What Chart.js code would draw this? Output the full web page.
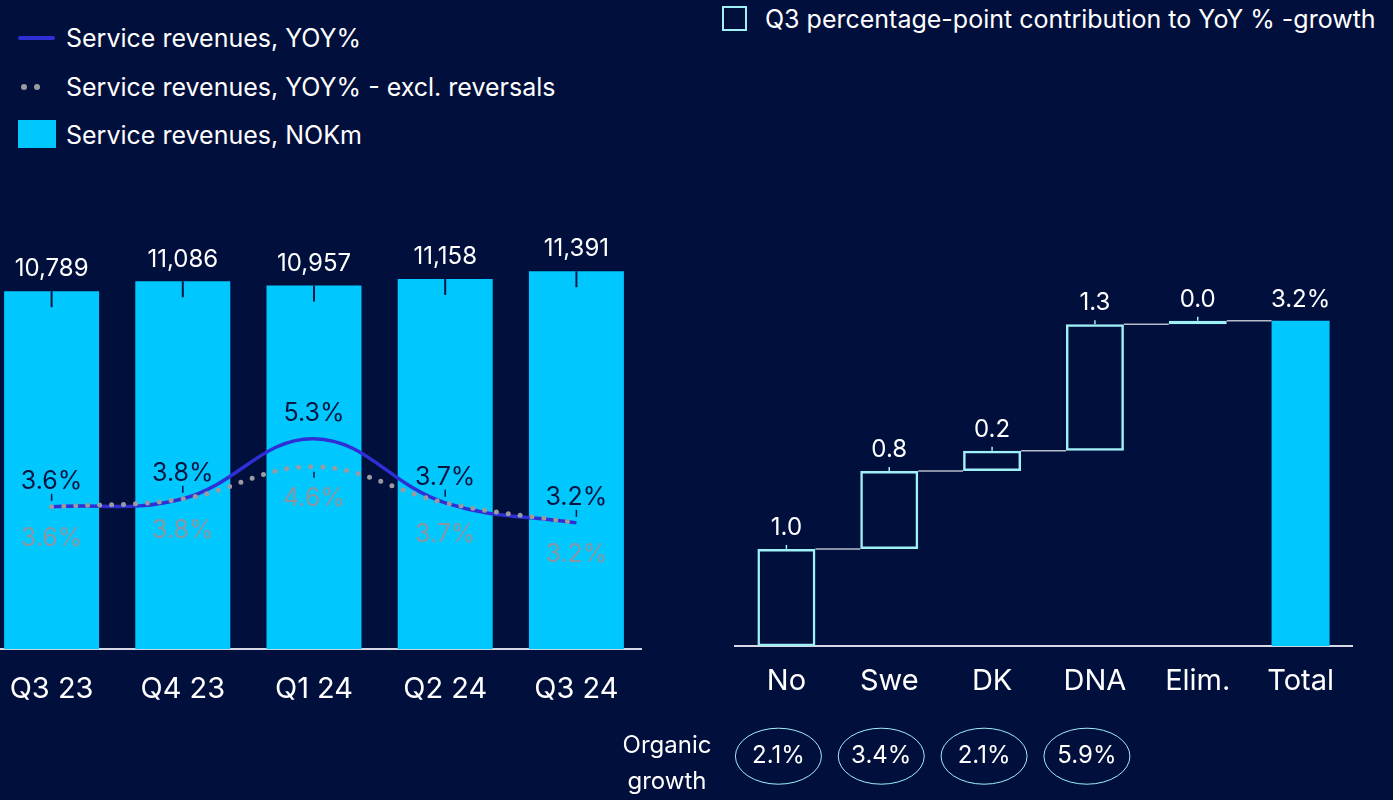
<!DOCTYPE html>
<html lang="en">
<head>
<meta charset="UTF-8" />
<title>Service revenues</title>
<script src="https://cdn.jsdelivr.net/npm/chart.js"></script>
<style>
  html, body { margin: 0; padding: 0; }
  body {
    width: 1393px; height: 800px; overflow: hidden; position: relative;
    background: #010f3c; color: #fff; font-family: 'Inter', sans-serif;
  }
  .lg { position: absolute; font-size: 25px; line-height: 30px; white-space: nowrap; }
  .mk { position: absolute; }
  #leftBox { position: absolute; left: -14px; top: 180px; }
  #rightBox { position: absolute; left: 600px; top: 150px; }
</style>
</head>
<body>
<!-- legends -->
<div class="mk" style="left:18px;top:36px;width:37px;height:4px;background:#2f2fd6;border-radius:2px"></div>
<div class="lg" style="left:66px;top:23px">Service revenues, YOY%</div>
<div class="mk" style="left:21px;top:84px;width:6px;height:6px;background:#9a9aa0;border-radius:3px"></div>
<div class="mk" style="left:34px;top:84px;width:6px;height:6px;background:#9a9aa0;border-radius:3px"></div>
<div class="lg" style="left:66px;top:72px">Service revenues, YOY% - excl. reversals</div>
<div class="mk" style="left:18px;top:120px;width:38px;height:28px;background:#00c8ff"></div>
<div class="lg" style="left:66px;top:120px">Service revenues, NOKm</div>

<div class="mk" style="left:722px;top:6px;width:21px;height:21px;border:2px solid #a0f0f8"></div>
<div class="lg" style="left:765px;top:4px">Q3 percentage-point contribution to YoY % -growth</div>

<div id="leftBox"><canvas id="revChart" width="656" height="550"></canvas></div>
<div id="rightBox"><canvas id="wfChart" width="793" height="650"></canvas></div>

<script>
const quarters = ['Q3 23', 'Q4 23', 'Q1 24', 'Q2 24', 'Q3 24'];
const revenues = [10789, 11086, 10957, 11158, 11391];
const yoyGrowth = [3.6, 3.8, 5.3, 3.7, 3.2];
const yoyExclReversals = [3.6, 3.8, 4.6, 3.7, 3.2];

const wfCategories = ['No', 'Swe', 'DK', 'DNA', 'Elim.', 'Total'];
const wfContrib = [1.0, 0.8, 0.21, 1.30, 0.035];
const wfTotal = 3.345;
const wfLabels = ['1.0', '0.8', '0.2', '1.3', '0.0', '3.2%'];
const organicGrowth = ['2.1%', '3.4%', '2.1%', '5.9%'];

const BG = '#010f3c', CYAN = '#00c8ff', AQUA = '#a0f0f8', NAVY = '#0a1642';
const FONT = 'Inter';

// ---------- left chart: revenues + growth lines ----------
const leftLabels = {
  id: 'leftLabels',
  afterDatasetsDraw(chart) {
    const ctx = chart.ctx;
    const bars = chart.getDatasetMeta(0).data;
    const yoy = chart.getDatasetMeta(1).data;
    const excl = chart.getDatasetMeta(2).data;
    ctx.save();
    ctx.textAlign = 'center';
    ctx.textBaseline = 'middle';
    ctx.lineWidth = 2;
    ctx.strokeStyle = NAVY;
    bars.forEach((b, i) => {
      ctx.beginPath(); ctx.moveTo(b.x, b.y); ctx.lineTo(b.x, b.y + 16); ctx.stroke();
      ctx.font = '24px ' + FONT;
      ctx.fillStyle = '#ffffff';
      ctx.fillText(revenues[i].toLocaleString('en-US'), b.x, b.y - 22);
    });
    ctx.font = '25px ' + FONT;
    yoy.forEach((p, i) => {
      ctx.strokeStyle = NAVY; ctx.lineWidth = 1.5;
      ctx.beginPath();
      if (i === 2) { ctx.moveTo(p.x, excl[i].y + 5); ctx.lineTo(p.x, excl[i].y + 11); }
      else { ctx.moveTo(p.x, p.y - 13); ctx.lineTo(p.x, p.y - 6); }
      ctx.stroke();
      ctx.fillStyle = NAVY;
      ctx.fillText(yoyGrowth[i].toFixed(1) + '%', p.x, p.y - 25);
      ctx.fillStyle = '#8a97a3';
      ctx.fillText(yoyExclReversals[i].toFixed(1) + '%', p.x, excl[i].y + 32);
    });
    ctx.restore();
  }
};

new Chart(document.getElementById('revChart'), {
  type: 'bar',
  data: {
    labels: quarters,
    datasets: [
      { label: 'Service revenues, NOKm', data: revenues, yAxisID: 'y', backgroundColor: CYAN,
        barPercentage: 0.724, categoryPercentage: 1, order: 2 },
      { type: 'line', label: 'Service revenues, YOY%', data: yoyGrowth, yAxisID: 'y1',
        borderColor: '#2f2fd6', borderWidth: 3.5, tension: 0.4, pointRadius: 0, order: 1 },
      { type: 'line', label: 'Service revenues, YOY% - excl. reversals', data: yoyExclReversals, yAxisID: 'y1',
        borderColor: '#9a9aa0', borderWidth: 5, borderDash: [0, 12], borderCapStyle: 'round',
        tension: 0.4, pointRadius: 0, order: 0 }
    ]
  },
  options: {
    responsive: false,
    animation: false,
    layout: { padding: 0 },
    plugins: { legend: { display: false }, tooltip: { enabled: false } },
    scales: {
      x: {
        grid: { display: false, drawTicks: false },
        border: { display: true, color: '#d6d9e4', width: 2 },
        ticks: { color: '#ffffff', font: { family: FONT, size: 29 }, padding: 23 }
      },
      y: { display: false, min: 0, max: 14140 },
      y1: { display: false, min: 0.05, max: 11.75 }
    }
  },
  plugins: [leftLabels]
});

// ---------- right chart: waterfall ----------
const wfRanges = [];
let run = 0;
wfContrib.forEach(v => { wfRanges.push([run, run + v]); run += v; });
wfRanges.push([0, wfTotal]);
const last = wfCategories.length - 1;

const wfExtras = {
  id: 'wfExtras',
  afterDatasetsDraw(chart) {
    const ctx = chart.ctx;
    const bars = chart.getDatasetMeta(0).data;
    const xs = chart.scales.x, ys = chart.scales.y;
    ctx.save();
    // connectors
    ctx.strokeStyle = '#b8bcc8'; ctx.lineWidth = 1.5;
    for (let i = 0; i < last; i++) {
      const y = ys.getPixelForValue(wfRanges[i][1]);
      ctx.beginPath();
      ctx.moveTo(bars[i].x + bars[i].width / 2, y);
      ctx.lineTo(bars[i + 1].x - bars[i + 1].width / 2, y);
      ctx.stroke();
    }
    // value labels
    ctx.textAlign = 'center'; ctx.textBaseline = 'middle';
    ctx.font = '24px ' + FONT;
    bars.forEach((b, i) => {
      const top = Math.min(b.y, b.base);
      if (i < last) {
        ctx.strokeStyle = AQUA; ctx.lineWidth = 1.5;
        ctx.beginPath(); ctx.moveTo(b.x, top - 4); ctx.lineTo(b.x, top); ctx.stroke();
      }
      ctx.fillStyle = '#ffffff';
      ctx.fillText(wfLabels[i], b.x, top - 21);
    });
    // organic growth row
    const cy = chart.chartArea.bottom + 110;
    ctx.fillText('Organic', chart.chartArea.left - 68, cy - 10);
    ctx.fillText('growth', chart.chartArea.left - 68, cy + 26);
    organicGrowth.forEach((t, i) => {
      const cx = xs.getPixelForValue(i) - 8;
      ctx.strokeStyle = AQUA; ctx.lineWidth = 1;
      ctx.beginPath(); ctx.ellipse(cx, cy, 43, 28, 0, 0, Math.PI * 2); ctx.stroke();
      ctx.fillStyle = '#ffffff';
      ctx.fillText(t, cx, cy);
    });
    ctx.restore();
  }
};

new Chart(document.getElementById('wfChart'), {
  type: 'bar',
  data: {
    labels: wfCategories,
    datasets: [{
      label: 'Q3 percentage-point contribution to YoY % -growth',
      data: wfRanges,
      backgroundColor: wfCategories.map((c, i) => i === last ? CYAN : (i === last - 1 ? AQUA : 'rgba(0,0,0,0)')),
      borderColor: wfCategories.map((c, i) => i === last ? CYAN : AQUA),
      borderWidth: wfCategories.map((c, i) => i === last ? 0 : 2.5),
      borderSkipped: false,
      barPercentage: 0.564,
      categoryPercentage: 1
    }]
  },
  options: {
    responsive: false,
    animation: false,
    layout: { padding: { left: 135, right: 41, top: 0, bottom: 83 } },
    plugins: { legend: { display: false }, tooltip: { enabled: false } },
    scales: {
      x: {
        grid: { display: false, drawTicks: false },
        border: { display: true, color: '#d6d9e4', width: 2 },
        ticks: { color: '#ffffff', font: { family: FONT, size: 29 }, padding: 18 }
      },
      y: { display: false, min: 0, max: 5.1 }
    }
  },
  plugins: [wfExtras]
});
</script>
</body>
</html>
